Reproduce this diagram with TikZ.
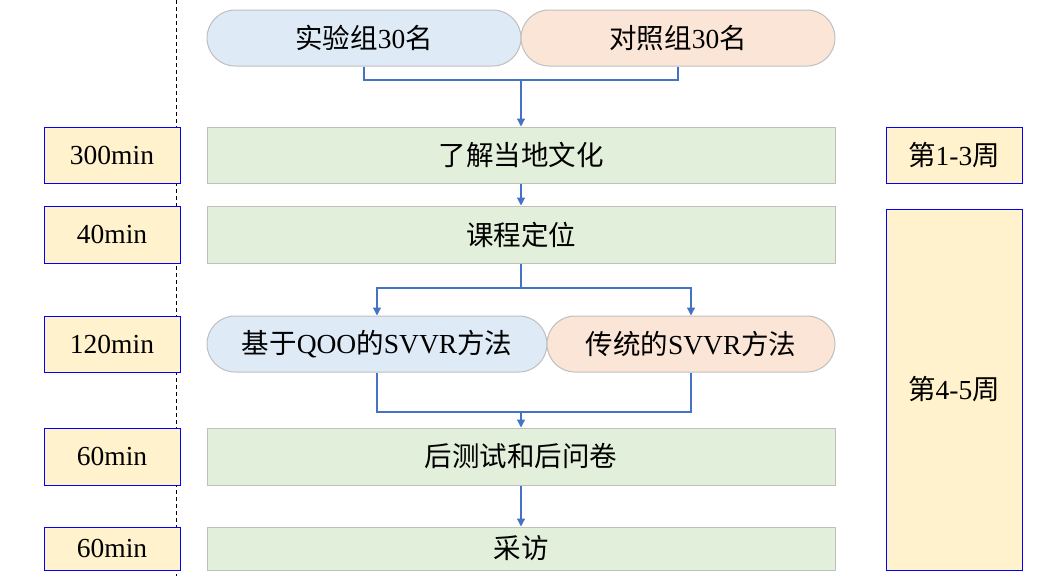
\documentclass[tikz,border=0pt]{standalone}
\usepackage{fontspec}
\setmainfont{Liberation Serif}
\newfontfamily\cjk{Noto Sans CJK SC}
\usetikzlibrary{arrows.meta}
\definecolor{pillblue}{HTML}{DEEAF6}
\definecolor{pillpeach}{HTML}{FBE5D6}
\definecolor{stepgreen}{HTML}{E2EFDA}
\definecolor{timefill}{HTML}{FFF2CC}
\definecolor{edgegray}{HTML}{BFBFBF}
\definecolor{linkblue}{HTML}{4472C4}
\definecolor{timeblue}{HTML}{0000FF}
\tikzset{
  txt/.style={font=\fontsize{27.5}{30}\selectfont, text=black, inner sep=0pt},
  stepbox/.style={txt, draw=edgegray, line width=1pt, fill=stepgreen, minimum width=628pt, minimum height=56pt},
  pillA/.style={txt, draw=edgegray, line width=1pt, fill=pillblue, rounded corners=28pt, minimum height=56pt},
  pillB/.style={txt, draw=edgegray, line width=1pt, fill=pillpeach, rounded corners=28pt, minimum height=56pt},
  timebox/.style={txt, draw=timeblue, line width=1pt, fill=timefill, minimum width=136pt},
  link/.style={draw=linkblue, line width=1.2pt},
  arr/.style={link, -{Triangle[length=8pt,width=8pt]}}
}
\begin{document}
\begin{tikzpicture}[x=1pt,y=-1pt]
\useasboundingbox (0,0) rectangle (1048,576);
\draw[line width=0.9pt, dash pattern=on 4pt off 3pt] (176,0) -- (176,576);

% top pills
\node[pillA, minimum width=314pt] (p1) at (364,38) {{\cjk 实验组}30{\cjk 名}};
\node[pillB, minimum width=314pt] (p2) at (678,38) {{\cjk 对照组}30{\cjk 名}};

% steps
\node[stepbox] (g1) at (521,155) {\cjk 了解当地文化};
\node[stepbox, minimum height=57pt] (g2) at (521,234.5) {\cjk 课程定位};
\node[pillA, minimum width=340pt] (q1) at (377,344) {{\cjk 基于}QOO{\cjk 的}SVVR{\cjk 方法}};
\node[pillB, minimum width=288pt] (q2) at (691,344) {{\cjk 传统的}SVVR{\cjk 方法}};
\node[stepbox, minimum height=57pt] (g3) at (521,456.5) {\cjk 后测试和后问卷};
\node[stepbox, minimum height=43pt] (g4) at (521,548.5) {\cjk 采访};

% connectors
\coordinate (j1) at (521,80);
\draw[link] (p1.south) |- (j1);
\draw[link] (p2.south) |- (j1);
\draw[arr] (j1) -- (g1.north);
\draw[arr] (g1.south) -- (g2.north);
\coordinate (j2) at (521,288);
\draw[link] (g2.south) -- (j2);
\draw[arr] (j2) -| (q1.north);
\draw[arr] (j2) -| (q2.north);
\coordinate (j3) at (521,412);
\draw[link] (q1.south) |- (j3);
\draw[link] (q2.south) |- (j3);
\draw[arr] (j3) -- (g3.north);
\draw[arr] (g3.south) -- (g4.north);

% time boxes
\node[timebox, minimum height=56pt] (t1) at (112,155) {300min};
\node[timebox, minimum height=57pt] (t2) at (112,234.5) {40min};
\node[timebox, minimum height=56pt] (t3) at (112,344) {120min};
\node[timebox, minimum height=57pt] (t4) at (112,456.5) {60min};
\node[timebox, minimum height=43pt] (t5) at (112,548.5) {60min};

% week boxes
\node[timebox, minimum height=56pt] (w1) at (954,155) {{\cjk 第}1-3{\cjk 周}};
\node[timebox, minimum height=361pt] (w2) at (954,389.5) {{\cjk 第}4-5{\cjk 周}};
\end{tikzpicture}
\end{document}
